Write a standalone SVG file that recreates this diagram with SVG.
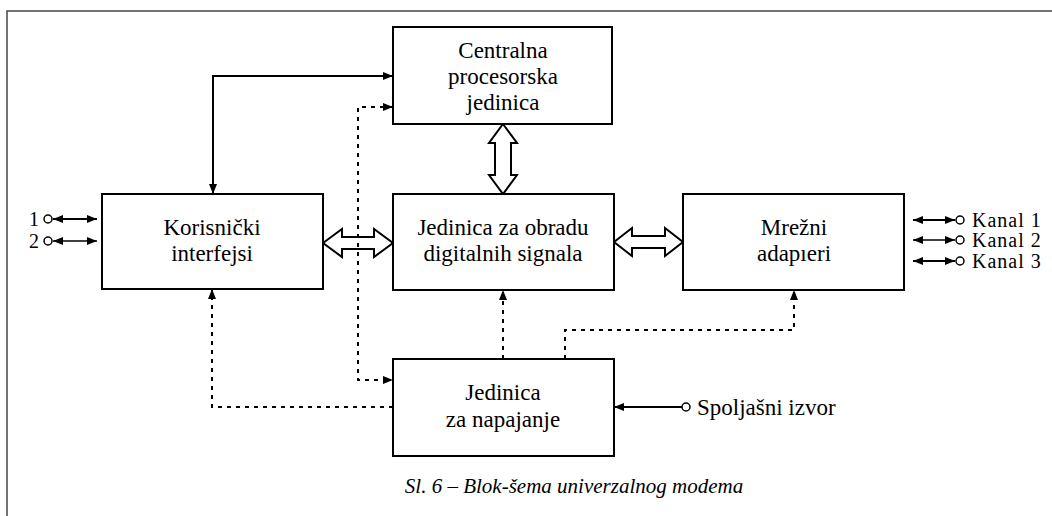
<svg xmlns="http://www.w3.org/2000/svg" width="1052" height="516" viewBox="0 0 1052 516" font-family="'Liberation Serif', 'DejaVu Serif', serif">
<defs>
<style>
text{font-family:'Liberation Serif','DejaVu Serif',serif;fill:#000}
.box{fill:#fff;stroke:#000;stroke-width:2}
.t{font-size:23px;text-anchor:middle}
.tl{font-size:20px;letter-spacing:1px}
.num{font-size:20px;text-anchor:end}
.cap{font-size:21px;font-style:italic;text-anchor:middle}
.s{fill:none;stroke:#000;stroke-width:2}
.s1{fill:none;stroke:#000;stroke-width:1.5}
.d{fill:none;stroke:#000;stroke-width:2;stroke-dasharray:4 5}
.h{fill:none;stroke:#000;stroke-width:2;stroke-linejoin:miter}
.c{fill:#fff;stroke:#000;stroke-width:1.5}
</style>
<marker id="a" viewBox="0 0 10 8" refX="10" refY="4" markerWidth="10" markerHeight="8" markerUnits="userSpaceOnUse" orient="auto-start-reverse">
<path d="M0,0 L10,4 L0,8 z" fill="#000"/>
</marker>
</defs>
<rect width="1052" height="516" fill="#fff"/>
<path d="M7 516 V11 H1052" fill="none" stroke="#444" stroke-width="1.5"/>

<g id="connectors">
<path class="s" d="M213 194 V76 H393" marker-start="url(#a)" marker-end="url(#a)"/>
<path class="d" d="M393 107 H358 V380 H393" marker-start="url(#a)" marker-end="url(#a)"/>
<path class="d" d="M393 407 H212 V289" marker-end="url(#a)"/>
<path class="d" d="M503 359 V290" marker-end="url(#a)"/>
<path class="d" d="M565 359 V330 H794 V290" marker-end="url(#a)"/>
<polygon class="h" points="503,124 517,143 511,143 511,175 517,175 503,194 489,175 495,175 495,143 489,143"/>
<polygon class="h" points="323,243 342,229 342,237 374,237 374,229 393,243 374,257 374,249 342,249 342,257"/>
<polygon class="h" points="614,242 632,228 632,236 665,236 665,228 683,242 665,256 665,248 632,248 632,256"/>
<path class="s" d="M53 219 H97" marker-start="url(#a)" marker-end="url(#a)"/>
<path class="s1" d="M53 241 H97" marker-start="url(#a)" marker-end="url(#a)"/>
<circle class="c" cx="48" cy="219" r="4"/>
<circle class="c" cx="48" cy="241" r="4"/>
<path class="s" d="M913 220 H955" marker-start="url(#a)" marker-end="url(#a)"/>
<path class="s1" d="M913 240 H955" marker-start="url(#a)" marker-end="url(#a)"/>
<path class="s" d="M913 261 H955" marker-start="url(#a)" marker-end="url(#a)"/>
<circle class="c" cx="960" cy="220" r="4"/>
<circle class="c" cx="960" cy="240" r="4"/>
<circle class="c" cx="960" cy="261" r="4"/>
<path class="s" d="M682 407 H614" marker-end="url(#a)"/>
<circle class="c" cx="686" cy="407" r="4"/>
</g>

<g id="cpu">
<rect class="box" x="393" y="27" width="219" height="97"/>
<text class="t" x="503" y="58">Centralna</text>
<text class="t" x="503" y="84">procesorska</text>
<text class="t" x="503" y="110">jedinica</text>
</g>
<g id="korisnicki">
<rect class="box" x="102" y="194" width="221" height="95"/>
<text class="t" x="212" y="235">Korisnički</text>
<text class="t" x="212" y="261">interfejsi</text>
</g>
<g id="dsp">
<rect class="box" x="393" y="194" width="221" height="96"/>
<text class="t" x="503" y="235">Jedinica za obradu</text>
<text class="t" x="503" y="261">digitalnih signala</text>
</g>
<g id="mrezni">
<rect class="box" x="683" y="194" width="221" height="96"/>
<text class="t" x="794" y="235">Mrežni</text>
<text class="t" x="794" y="261">adapıeri</text>
</g>
<g id="napajanje">
<rect class="box" x="393" y="359" width="221" height="97"/>
<text class="t" x="503" y="400">Jedinica</text>
<text class="t" x="503" y="427">za napajanje</text>
</g>

<g id="labels">
<text class="num" x="39" y="226">1</text>
<text class="num" x="39" y="248">2</text>
<text class="tl" x="972" y="227">Kanal 1</text>
<text class="tl" x="972" y="247">Kanal 2</text>
<text class="tl" x="972" y="268">Kanal 3</text>
<text x="697" y="415" font-size="23">Spoljašni izvor</text>
<text class="cap" x="574" y="493">Sl. 6 – Blok-šema univerzalnog modema</text>
</g>
</svg>
